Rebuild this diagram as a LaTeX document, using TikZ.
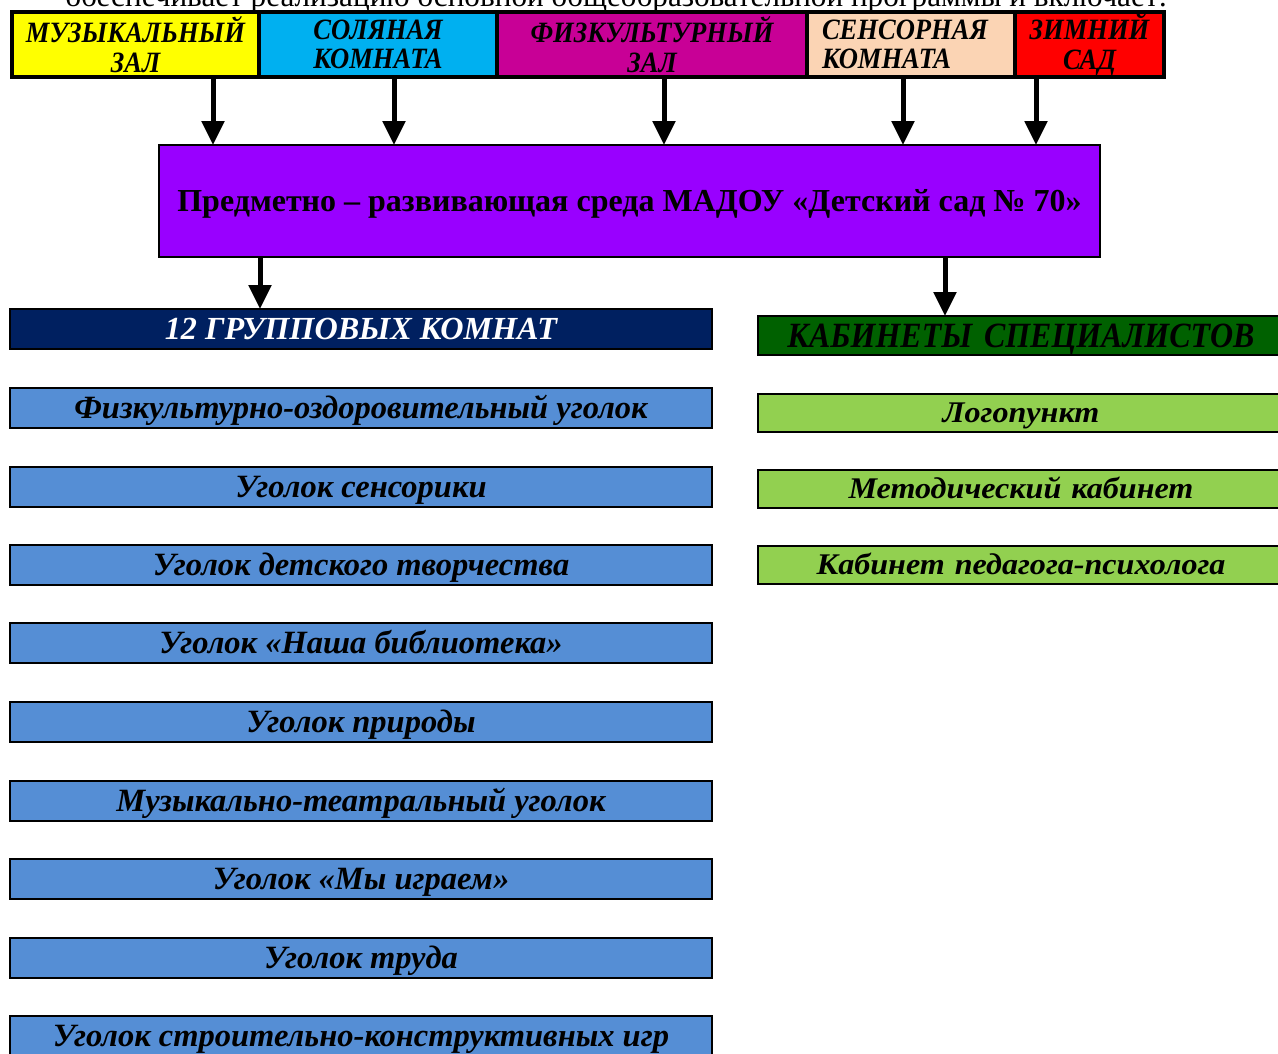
\documentclass[tikz,border=0pt]{standalone}
\usepackage{fontspec}
\setmainfont{Liberation Serif}
\newfontfamily\condserif{Liberation Serif}[FakeStretch=0.9]
\newfontfamily\wideserif{Liberation Serif}[FakeStretch=1.07]
\usepackage{tikz}
\usetikzlibrary{arrows.meta,positioning,calc}
\definecolor{zalyellow}{HTML}{FFFF00}
\definecolor{zalcyan}{HTML}{00B0F0}
\definecolor{zalmagenta}{HTML}{C80096}
\definecolor{zalpeach}{HTML}{FBD4B4}
\definecolor{zalred}{HTML}{FF0000}
\definecolor{sredapurple}{HTML}{9900FF}
\definecolor{grpnavy}{HTML}{002060}
\definecolor{kabgreen}{HTML}{006100}
\definecolor{ugblue}{HTML}{558ED5}
\definecolor{kablight}{HTML}{92D050}

\begin{document}
\begin{tikzpicture}[x=1pt,y=-1pt,
    zal/.style={draw, line width=4pt, minimum height=65pt, inner sep=0pt, outer sep=0pt, align=center, font=\condserif\fontsize{29.5}{29.5}\selectfont\bfseries\itshape},
    ugol/.style={draw, line width=2pt, fill=ugblue, minimum width=702pt, minimum height=40pt, inner sep=0pt, outer sep=0pt, anchor=north west, text height=21pt, text depth=0pt, font=\fontsize{32.5}{32.5}\selectfont\bfseries\itshape},
    kabbox/.style={draw, line width=2pt, fill=kablight, minimum width=526pt, minimum height=38pt, inner sep=0pt, outer sep=0pt, anchor=north west, text width=512pt, align=center, text height=19.5pt, text depth=0pt, font=\wideserif\fontsize{30}{30}\selectfont\bfseries\itshape},
    arr/.style={line width=5pt, -{Triangle[width=22pt,length=24pt]}}]
    \useasboundingbox (0,0) rectangle (1278,1053);
    \node (intro) at (62,6.5) [anchor=base west, font=\fontsize{31.2}{31.2}\selectfont] {обеспечивает реализацию основной общеобразовательной программы и включает:};
    \node (mus) at (135.5,44.5) [zal, fill=zalyellow, minimum width=247pt] {МУЗЫКАЛЬНЫЙ\\ЗАЛ};
    \node (sol) at (378,44.5) [zal, fill=zalcyan, minimum width=238pt] {СОЛЯНАЯ\\КОМНАТА};
    \node (fiz) at (652,44.5) [zal, fill=zalmagenta, minimum width=310pt] {ФИЗКУЛЬТУРНЫЙ\\ЗАЛ};
    \node (sen) at (911,44.5) [zal, fill=zalpeach, minimum width=208pt, text width=178pt, align=left] {СЕНСОРНАЯ\\КОМНАТА};
    \node (zim) at (1089.5,44.5) [zal, fill=zalred, minimum width=149pt] {ЗИМНИЙ\\САД};
    \node (sreda) at (629.5,201) [draw, line width=2pt, fill=sredapurple, minimum width=941pt, minimum height=112pt, inner sep=0pt, outer sep=0pt, text height=21pt, text depth=0pt, font=\fontsize{32}{32}\selectfont\bfseries] {Предметно – развивающая среда МАДОУ «Детский сад №~70»};
    \node (grp) at (10,309) [ugol, fill=grpnavy, text=white, font=\fontsize{32.2}{32.2}\selectfont\bfseries\itshape] {12 ГРУППОВЫХ КОМНАТ};
    \node (kab) at (758,316) [kabbox, fill=kabgreen, minimum height=39pt, text height=23pt, font=\condserif\fontsize{35.5}{35.5}\selectfont\bfseries\itshape] {КАБИНЕТЫ СПЕЦИАЛИСТОВ};
    \node (ug1) at (10,388) [ugol] {Физкультурно-оздоровительный уголок};
    \node (ug2) at (10,467) [ugol] {Уголок сенсорики};
    \node (ug3) at (10,545) [ugol] {Уголок детского творчества};
    \node (ug4) at (10,623) [ugol] {Уголок «Наша библиотека»};
    \node (ug5) at (10,702) [ugol] {Уголок природы};
    \node (ug6) at (10,781) [ugol] {Музыкально-театральный уголок};
    \node (ug7) at (10,859) [ugol] {Уголок «Мы играем»};
    \node (ug8) at (10,938) [ugol] {Уголок труда};
    \node (ug9) at (10,1016) [ugol] {Уголок строительно-конструктивных игр};
    \node (kab1) at (758,394) [kabbox] {Логопункт};
    \node (kab2) at (758,470) [kabbox] {Методический кабинет};
    \node (kab3) at (758,546) [kabbox] {Кабинет педагога-психолога};
    \draw[arr] (mus.south -| 213,0) -- (sreda.north -| 213,0);
    \draw[arr] (sol.south -| 394,0) -- (sreda.north -| 394,0);
    \draw[arr] (fiz.south -| 664,0) -- (sreda.north -| 664,0);
    \draw[arr] (sen.south -| 903,0) -- (sreda.north -| 903,0);
    \draw[arr] (zim.south -| 1036,0) -- (sreda.north -| 1036,0);
    \draw[arr] (sreda.south -| 260,0) -- (grp.north -| 260,0);
    \draw[arr] (sreda.south -| 945,0) -- (kab.north -| 945,0);
\end{tikzpicture}
\end{document}
